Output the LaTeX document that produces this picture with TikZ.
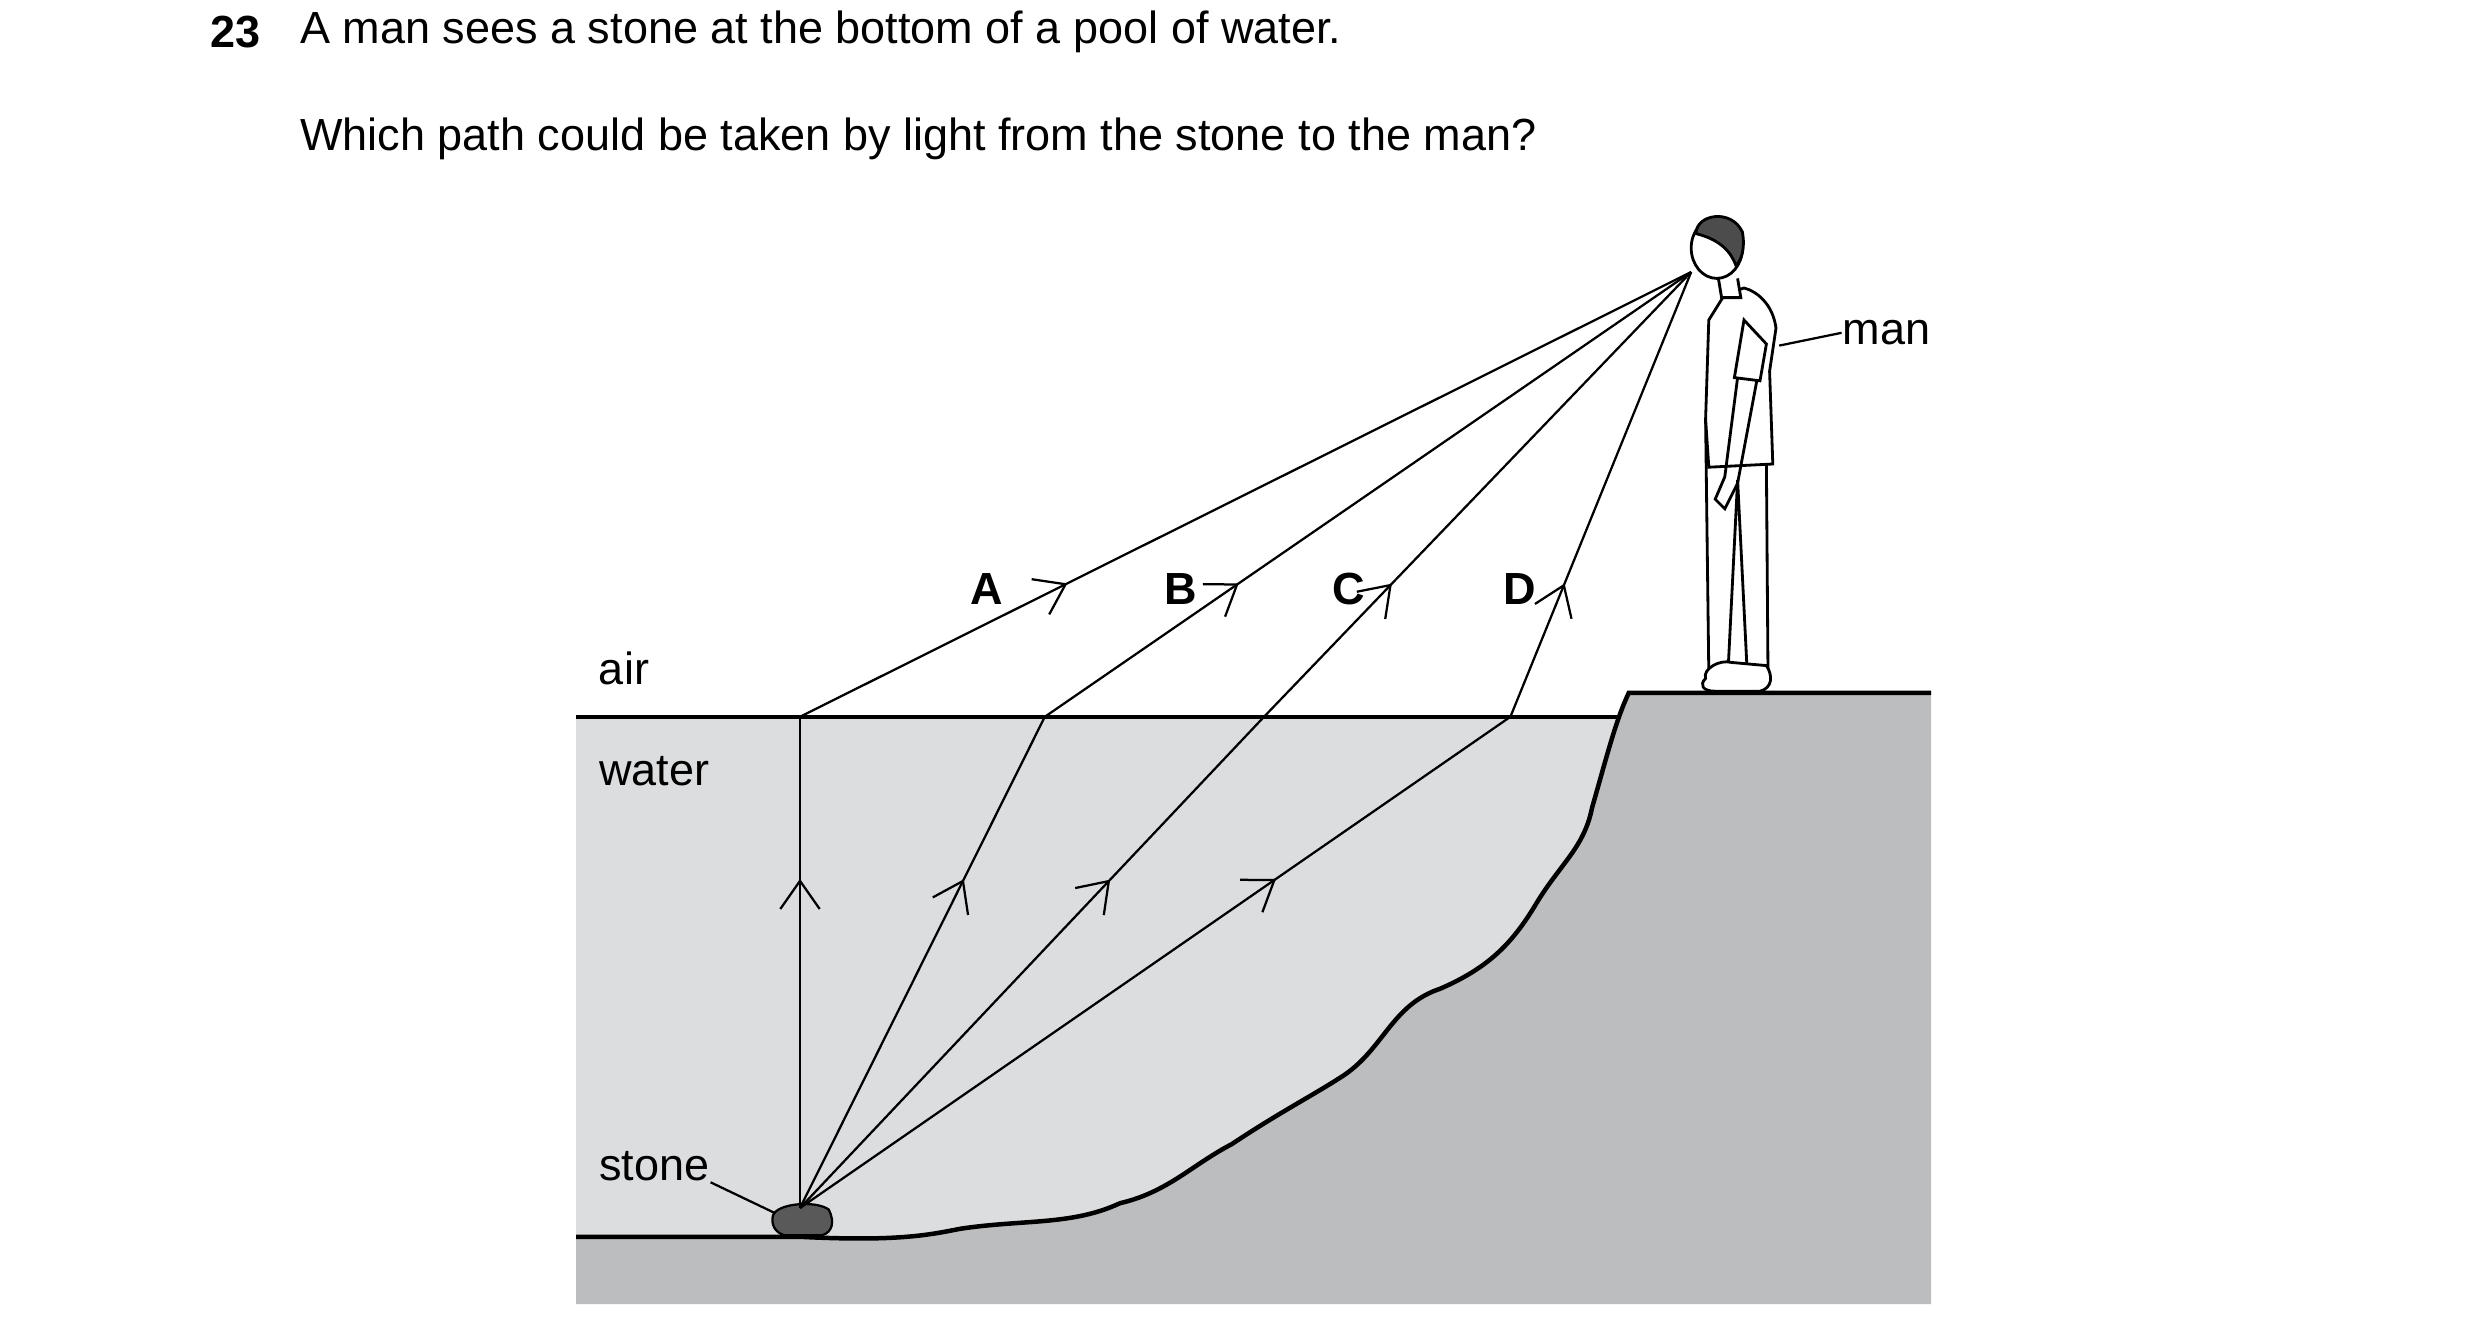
\documentclass[tikz,border=0pt]{standalone}
\usepackage{fontspec}
\setmainfont{Liberation Sans}
\usetikzlibrary{arrows.meta}
\usetikzlibrary{decorations.markings}
\tikzset{ray/.style={draw,thin,
                     postaction={decorate},
                     decoration={markings,mark=at position #1 with {\arrow{Straight Barb[length=5pt,width=7pt]}}}}}
\tikzset{label text/.style={font=\fontsize{8}{10}\selectfont,inner sep=0pt}}
\tikzset{ray label/.style={font=\fontsize{8}{10}\selectfont\bfseries}}
\definecolor{watergrey}{RGB}{220,221,223}
\definecolor{groundgrey}{RGB}{188,189,191}

\begin{document}
\begin{tikzpicture}[x=0.01cm,y=-0.01cm]
      \useasboundingbox (0,0) rectangle (1550,830);

      % question
      \node [label text,font=\fontsize{8}{10}\selectfont\bfseries,anchor=west] (num) at (131,20) {23};
      \node [label text,anchor=west] (q1) at (187,20) {A man sees a stone at the bottom of a pool of water.};
      \node [label text,anchor=west] (q2) at (187,87) {Which path could be taken by light from the stone to the man?};

      % water and ground
      \fill [watergrey] (360,448) rectangle (1020,773);
      \fill [groundgrey] (360,773) -- (500,773) .. controls (560,776) and (580,772) .. (600,768)
        .. controls (640,762) and (670,766) .. (700,752)
        .. controls (730,745) and (745,728) .. (770,715)
        .. controls (800,695) and (820,685) .. (840,672)
        .. controls (865,655) and (870,628) .. (900,618)
        .. controls (930,605) and (945,590) .. (960,565)
        .. controls (975,540) and (990,530) .. (995,505)
        .. controls (1005,470) and (1010,450) .. (1018,433)
        -- (1207,433) -- (1207,815) -- (360,815) -- cycle;
      \draw [thick] (360,773) -- (500,773) .. controls (560,776) and (580,772) .. (600,768)
        .. controls (640,762) and (670,766) .. (700,752)
        .. controls (730,745) and (745,728) .. (770,715)
        .. controls (800,695) and (820,685) .. (840,672)
        .. controls (865,655) and (870,628) .. (900,618)
        .. controls (930,605) and (945,590) .. (960,565)
        .. controls (975,540) and (990,530) .. (995,505)
        .. controls (1005,470) and (1010,450) .. (1018,433)
        -- (1207,433);
      \draw [thick] (360,448) -- (1013,448);

      % stone and eye
      \coordinate (stone) at (500,755);
      \coordinate (eye) at (1057,170);
      \draw [fill=gray!70!black] (483,760) .. controls (485,752) and (510,750) .. (518,756)
        .. controls (522,764) and (520,770) .. (514,772) -- (490,772) .. controls (484,770) and (482,765) .. (483,760) -- cycle;

      % rays
      \foreach \n/\x in {A/500,B/653,C/790,D/944}
      {
      \coordinate (P\n) at (\x,448);
      \path [ray=0.67] (stone) -- (P\n);
      \path [ray=0.3] (P\n) -- (eye);
      }

      \node [ray label] (lA) at (617,368) {A};
      \node [ray label] (lB) at (738,368) {B};
      \node [ray label] (lC) at (843,368) {C};
      \node [ray label] (lD) at (950,368) {D};

      % labels
      \node [label text] (air) at (390,418) {air};
      \node [label text] (water) at (409,482) {water};
      \node [label text] (stonelabel) at (409,729) {stone};
      \coordinate (stonetip) at (484,758);
      \draw (stonelabel.south east) -- (stonetip);
      \node [label text,anchor=west] (manlabel) at (1151,208) {man};
      \coordinate (mantip) at (1112,216);
      \draw (manlabel.west) -- (mantip);

      % man
      \begin{scope}[line width=0.5pt,fill=white]
      \draw [fill=white] (1066,262) -- (1068,420) -- (1080,420) -- (1086,300) -- (1092,420) -- (1105,420) -- (1104,290) -- (1068,290) -- cycle;
      \draw [fill=white] (1066,424) .. controls (1064,418) and (1075,412) .. (1082,414) -- (1104,416) .. controls (1108,422) and (1108,430) .. (1100,432) -- (1072,432) .. controls (1064,432) and (1062,428) .. (1066,424) -- cycle;
      \draw [fill=white] (1078,184) -- (1068,200) -- (1066,262) -- (1068,292) -- (1108,290) -- (1106,232) -- (1110,205) .. controls (1108,190) and (1098,182) .. (1090,180) -- cycle;
      \draw [fill=white] (1090,200) -- (1084,236) -- (1100,238) -- (1104,215) -- cycle;
      \draw (1086,236) -- (1078,298) -- (1072,312) -- (1078,318) -- (1086,302) -- (1098,238);
      \draw [fill=white] (1074,174) -- (1076,186) -- (1088,186) -- (1086,174);
      \draw [fill=white] (1073,155) ellipse [x radius=16,y radius=19];
      \draw [fill=gray!60!black] (1060,146) .. controls (1060,134) and (1082,130) .. (1089,145) .. controls (1091,156) and (1088,163) .. (1085,166) .. controls (1082,158) and (1076,150) .. (1060,146) -- cycle;
      \end{scope}
\end{tikzpicture}
\end{document}
